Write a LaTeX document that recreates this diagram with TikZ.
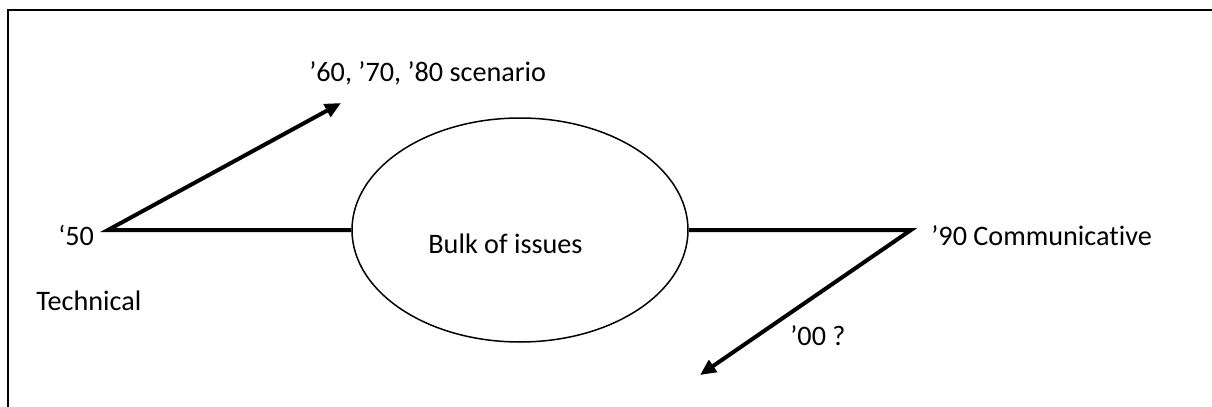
\documentclass[tikz,border=0pt]{standalone}
\usepackage{fontspec}
\setmainfont{Carlito}[Ligatures=NoCommon]
\usetikzlibrary{shapes, arrows.meta, positioning, calc}

\begin{document}
\begin{tikzpicture}[x=0.5pt,y=-0.5pt,
    lbl/.style={anchor=base west,inner sep=0pt,font=\fontsize{14.1pt}{17pt}\selectfont},
    heavy/.style={line width=2pt,line join=miter},
    tipend/.style={-{Triangle[length=8pt,width=7pt]}}]
  \useasboundingbox (0,0) rectangle (1212,407);

  % frame
  \draw[line width=1pt] (7.5,407) -- (7.5,9.5) -- (1212,9.5);

  % central ellipse
  \node[ellipse,draw,line width=0.75pt,minimum width=168pt,minimum height=112pt,inner sep=0pt] (bulk) at (520,230) {};
  \node[lbl] (bulktxt) at (428,253) {Bulk of issues};

  \coordinate (p50) at (108,230);
  \coordinate (p60) at (341,103);
  \coordinate (p90) at (911,230);
  \coordinate (p00) at (700,375);

  \draw[heavy,{Triangle[length=8pt,width=7pt]}-] (p60) -- (p50) -- (bulk.west);
  \draw[heavy,tipend] (bulk.east) -- (p90) -- (p00);

  % labels
  \node[lbl] (t50) at (58,245) {‘50};
  \node[lbl] (tech) at (36,310) {Technical};
  \node[lbl] (t60) at (309,82) {’60, ’70, ’80 scenario};
  \node[lbl] (t90) at (931,245) {’90 Communicative};
  \node[lbl] (t00) at (790,345) {’00 ?};
\end{tikzpicture}
\end{document}
